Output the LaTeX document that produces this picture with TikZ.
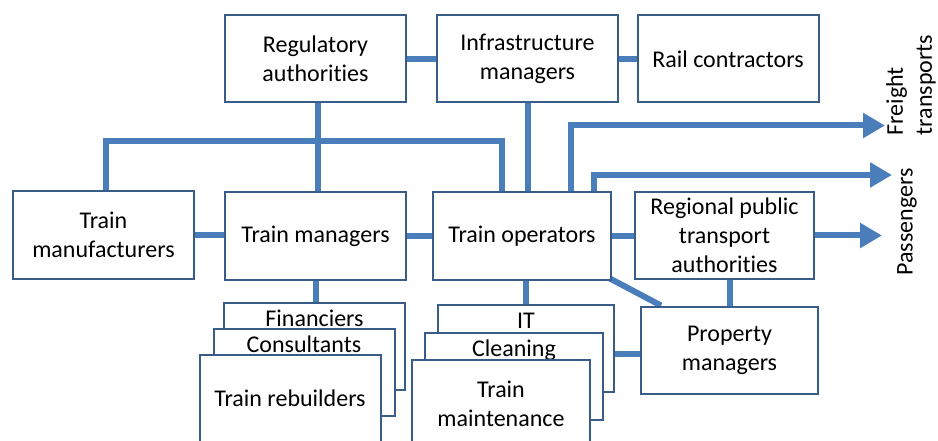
\documentclass[tikz,border=0pt]{standalone}
\usepackage{fontspec}
\setmainfont{Carlito}[Ligatures=NoCommon]
\usetikzlibrary{arrows.meta,backgrounds}
\definecolor{boxblue}{RGB}{56,93,138}
\definecolor{linkblue}{RGB}{74,126,187}
\begin{document}
\begin{tikzpicture}[x=1pt, y=-1pt,
        every node/.style={font=\fontsize{24pt}{29pt}\selectfont},
        box/.style={draw=boxblue, line width=2pt, fill=white, align=center,
            minimum width=181pt, minimum height=87pt, inner sep=2pt},
        stackbox/.style={box, anchor=north, inner ysep=0pt, text height=23pt, text depth=64pt},
        link/.style={draw=linkblue, line width=6pt},
        flow/.style={link, -{Triangle[length=22pt,width=24pt]}}]
    \useasboundingbox (0,0) rectangle (938,441);
    % top row
    \node[box] (reg) at (315.5,59) {Regulatory\\authorities};
    \node[box] (infra) at (527.5,59) {Infrastructure\\managers};
    \node[box] (rail) at (728,59) {Rail contractors};
    % middle row
    \node[box] (manuf) at (103.5,235) {Train\\manufacturers};
    \node[box] (tman) at (315.5,236) {Train managers};
    \node[box, minimum width=178pt] (tops) at (522,236) {Train operators};
    \node[box, minimum width=179pt] (regional) at (724.5,235.5) {Regional public\\transport\\authorities};
    \node[box, minimum width=177pt] (prop) at (729.5,350) {Property\\managers};
    % stacks
    \node[stackbox] (fin) at (314.5,302) {Financiers};
    \node[stackbox] (cons) at (304,328) {Consultants};
    \node[box] (rebuild) at (290,398.5) {Train rebuilders};
    \node[stackbox, minimum width=176pt] (it) at (526,304) {IT};
    \node[stackbox, minimum width=178pt] (clean) at (514,332) {Cleaning};
    \node[box, minimum width=178pt] (maint) at (501,403.5) {Train\\maintenance};
    % outputs
    \node[rotate=90, align=left, inner sep=0pt] (freight) at (911,85) {Freight\\transports};
    \node[rotate=90, inner sep=0pt] (pass) at (907,222) {Passengers};
    \coordinate (bus) at (318,141);
    \coordinate (ftip) at (885,125.5);
    \coordinate (ptip) at (892,175);
    \coordinate (rtip) at (882,235.5);
    \begin{scope}[on background layer]
        \draw[link] (reg) -- (infra);
        \draw[link] (infra) -- (rail);
        \draw[link] ([xshift=2.5pt]reg.south) -- ([xshift=2.5pt]tman.north);
        \draw[link] ([xshift=2.5pt]manuf.north) |- (bus) -| ([xshift=-20pt]tops.north);
        \draw[link] (infra.south) -- (infra.south |- tops.north);
        \draw[flow] ([xshift=49pt]tops.north) |- (ftip);
        \draw[flow] ([xshift=72pt]tops.north) |- (ptip);
        \draw[flow] (regional) -- (rtip);
        \draw[link] (manuf) -- (manuf -| tman);
        \draw[link] (tman) -- (tman -| tops);
        \draw[link] (tops) -- (tops -| regional);
        \draw[link] (tman) -- (tman |- fin.north);
        \draw[link] (it) -- (it |- tops);
        \draw[link] ([shift={(-4,-3)}]tops.south east) -- ([xshift=21pt]prop.north west);
        \draw[link] (prop.north) -- (prop.north |- regional.south);
        \draw[link] ([yshift=-4pt]prop.west) -- ([yshift=-4pt]prop.west -| it.east);
    \end{scope}
\end{tikzpicture}
\end{document}
